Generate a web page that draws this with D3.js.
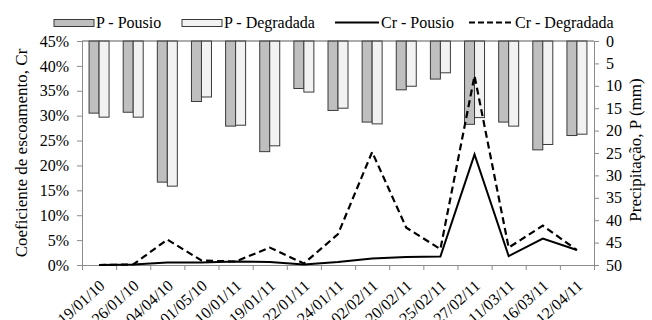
<!DOCTYPE html>
<html>
<head>
<meta charset="utf-8">
<script src="https://cdn.jsdelivr.net/npm/d3@7"></script>
<style>
  body { margin: 0; background: #fff; }
  svg text { font-family: "Liberation Serif", "Times New Roman", serif; fill: #000; }
</style>
</head>
<body>
<div id="chart"></div>
<script>
// data
var dates = ["19/01/10", "26/01/10", "04/04/10", "01/05/10", "10/01/11", "19/01/11", "22/01/11",
             "24/01/11", "02/02/11", "20/02/11", "25/02/11", "27/02/11", "11/03/11", "16/03/11", "12/04/11"];
var pPousio    = [16.1, 15.9, 31.5, 13.5, 19.0, 24.7, 10.6, 15.5, 18.1, 10.9, 8.5, 18.6, 18.1, 24.3, 21.1];
var pDegradada = [17.0, 17.0, 32.4, 12.5, 18.8, 23.4, 11.4, 15.0, 18.5, 10.1, 7.1, 17.1, 19.0, 23.1, 20.8];
var crPousio    = [0.0, 0.1, 0.5, 0.5, 0.7, 0.6, 0.1, 0.6, 1.3, 1.6, 1.7, 22.2, 1.8, 5.3, 3.0];
var crDegradada = [0.0, 0.1, 5.1, 0.9, 0.7, 3.5, 0.3, 6.2, 22.7, 7.5, 3.2, 38.0, 3.5, 7.9, 3.0];
var leftTicks = [0, 5, 10, 15, 20, 25, 30, 35, 40, 45];
var rightTicks = [0, 5, 10, 15, 20, 25, 30, 35, 40, 45, 50];

var W = 652, H = 320,
    margin = {top: 41, right: 58, bottom: 55, left: 82},
    width = W - margin.left - margin.right,
    height = H - margin.top - margin.bottom;

var svg = d3.select("#chart").append("svg")
    .attr("width", W)
    .attr("height", H);

var g = svg.append("g").attr("transform", "translate(" + margin.left + "," + margin.top + ")");

var x = d3.scaleBand().domain(dates).range([0, width]).padding(0);
var xSub = d3.scaleBand().domain(["P", "D"]).range([0, x.bandwidth()]).paddingInner(0).paddingOuter(0.707);
var xIdx = d3.scaleLinear().domain([0, dates.length]).range([0, width]);
var yL = d3.scaleLinear().domain([0, 45]).range([height, 0]);
var yR = d3.scaleLinear().domain([0, 50]).range([0, height]);

var axisColor = "#8c8c8c";

// bars, hanging from the top
function drawBars(vals, key, fill) {
  g.selectAll(".bar-" + key)
    .data(vals)
    .enter().append("rect")
      .attr("x", function(d, i) { return x(dates[i]) + xSub(key); })
      .attr("y", yR(0))
      .attr("width", xSub.bandwidth())
      .attr("height", function(d) { return yR(d) - yR(0); })
      .attr("fill", fill)
      .attr("stroke", "#3a3a3a")
      .attr("stroke-width", 1);
}
drawBars(pPousio, "P", "#bfbfbf");
drawBars(pDegradada, "D", "#f2f2f2");

// top category line
g.append("line")
    .attr("x1", 0).attr("x2", width)
    .attr("y1", yR(0)).attr("y2", yR(0))
    .attr("stroke", "#5a5a5a").attr("stroke-width", 1);

// left axis
var gl = g.append("g")
    .call(d3.axisLeft(yL).tickValues(leftTicks).tickSize(5).tickPadding(8).tickFormat(function(d) { return d + "%"; }));
gl.select(".domain").attr("stroke", axisColor);
gl.selectAll(".tick line").attr("stroke", axisColor);
gl.selectAll("text").style("font-size", "16px");

// right axis
var gr = g.append("g")
    .attr("transform", "translate(" + width + ",0)")
    .call(d3.axisRight(yR).tickValues(rightTicks).tickSize(5).tickPadding(7));
gr.select(".domain").attr("stroke", axisColor);
gr.selectAll(".tick line").attr("stroke", axisColor);
gr.selectAll("text").style("font-size", "16px");

// bottom axis: ticks between categories
var gb = g.append("g")
    .attr("transform", "translate(0," + height + ")")
    .call(d3.axisBottom(xIdx).tickValues(d3.range(0, dates.length + 1)).tickSize(5).tickFormat(""));
gb.select(".domain").attr("stroke", axisColor);
gb.selectAll(".tick line").attr("stroke", axisColor);

// bottom labels (the lower edge trims them, as in the original)
var gx = g.append("g")
    .attr("transform", "translate(0," + height + ")")
    .call(d3.axisBottom(x).tickSize(0));
gx.select(".domain").remove();
gx.selectAll("text")
    .style("font-size", "16px")
    .attr("x", 0).attr("y", 0).attr("dy", "0.35em")
    .attr("text-anchor", "end")
    .attr("transform", "translate(3,18) rotate(-42)");

// lines
var line = d3.line()
    .x(function(d, i) { return x(dates[i]) + x.bandwidth() / 2; })
    .y(function(d) { return yL(d); });

g.append("path")
    .datum(crPousio)
    .attr("fill", "none")
    .attr("stroke", "#000")
    .attr("stroke-width", 2)
    .attr("d", line);

g.append("path")
    .datum(crDegradada)
    .attr("fill", "none")
    .attr("stroke", "#000")
    .attr("stroke-width", 2.2)
    .attr("stroke-dasharray", "7,4")
    .attr("d", line);

// axis titles
svg.append("text")
    .attr("transform", "translate(27," + (margin.top + height / 2) + ") rotate(-90)")
    .attr("text-anchor", "middle")
    .style("font-size", "17px")
    .text("Coeficiente de escoamento, Cr");

svg.append("text")
    .attr("transform", "translate(641," + (margin.top + height / 2 - 3) + ") rotate(-90)")
    .attr("text-anchor", "middle")
    .style("font-size", "17px")
    .text("Precipitação, P (mm)");

// legend
var legendItems = [
  {name: "P - Pousio", type: "rect", fill: "#bfbfbf", x: 54},
  {name: "P - Degradada", type: "rect", fill: "#f2f2f2", x: 182},
  {name: "Cr - Pousio", type: "line", dash: null, x: 335},
  {name: "Cr - Degradada", type: "line", dash: "6,3", x: 469}
];
var legend = svg.append("g").attr("class", "legend");
legendItems.forEach(function(it) {
  var lg = legend.append("g").attr("transform", "translate(" + it.x + ",0)");
  if (it.type === "rect") {
    lg.append("rect")
      .attr("x", 0).attr("y", 19.5)
      .attr("width", 40).attr("height", 7)
      .attr("fill", it.fill)
      .attr("stroke", "#3a3a3a");
  } else {
    lg.append("line")
      .attr("x1", 0).attr("x2", 44)
      .attr("y1", 22.5).attr("y2", 22.5)
      .attr("stroke", "#000").attr("stroke-width", 2)
      .attr("stroke-dasharray", it.dash);
  }
  lg.append("text")
    .attr("x", it.type === "rect" ? 42 : 46)
    .attr("y", 27.5)
    .style("font-size", "16px")
    .text(it.name);
});
</script>
</body>
</html>
